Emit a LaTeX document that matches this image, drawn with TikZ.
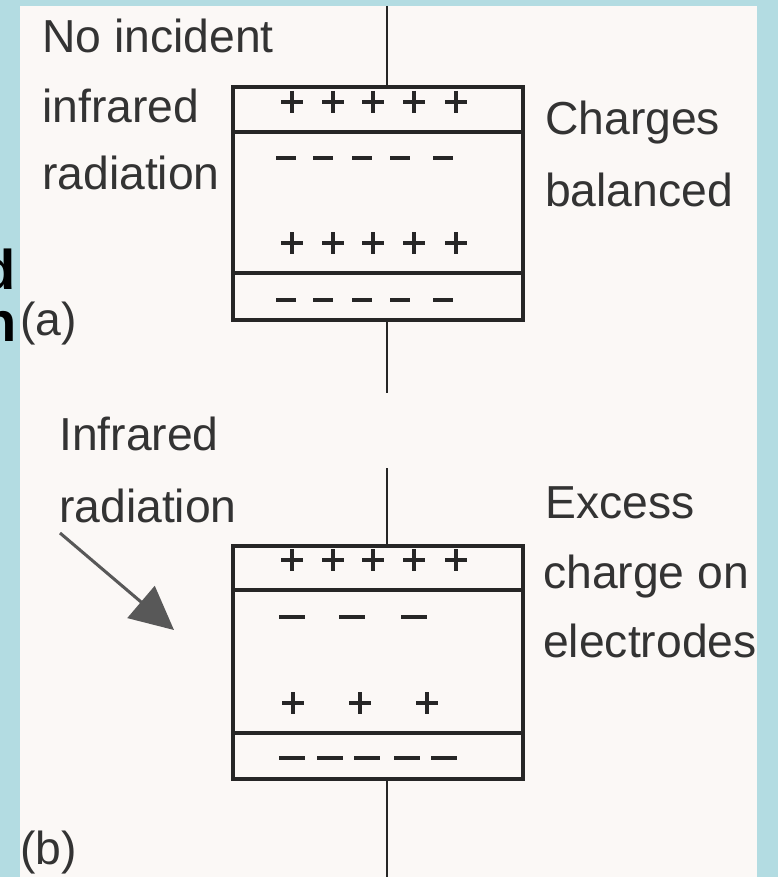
\documentclass[tikz,border=0pt]{standalone}
\usepackage{fontspec}
\setmainfont{Liberation Sans}
\usepackage{xcolor}
\usetikzlibrary{arrows.meta}

\definecolor{slideblue}{HTML}{B3DCE2}
\definecolor{paper}{HTML}{FBF8F6}
\definecolor{ink}{HTML}{262626}
\definecolor{textgray}{HTML}{333333}
\definecolor{arrowgray}{HTML}{585858}

\tikzset{
  lbl/.style={anchor=base west, inner sep=0pt, text=textgray,
    font=\fontsize{39.5}{46}\selectfont},
  cut/.style={anchor=base east, inner sep=0pt, text=black,
    font=\bfseries\fontsize{47.8}{56}\selectfont},
  cell/.style={draw=ink, line width=2.9pt, minimum width=8.7cm,
    minimum height=6.99cm, inner sep=0pt, outer sep=0pt},
  wire/.style={draw=ink, line width=2.3pt},
  chg/.style={draw=ink, line width=2.6pt},
  irarrow/.style={draw=arrowgray, line width=2.6pt,
    -{Triangle[length=1.3cm, width=1.25cm]}, arrowgray},
}

\begin{document}
\begin{tikzpicture}[x=0.03cm, y=-0.03cm]
    \useasboundingbox (0,0) rectangle (778,877);
    \clip (0,0) rectangle (778,877);
    \fill[slideblue] (0,0) rectangle (778,877);
    \fill[paper] (20,6) rectangle (757,877);

    % ends of the slide title, cut by the frame
    \node[cut] (titled) at (16,289) {d};
    \node[cut] (titlen) at (17,341) {n};

    % (a) no radiation
    \node[cell] (cella) at (378,203.5) {};
    \draw[cell] (cella.west |- 0,132) -- (cella.east |- 0,132);
    \draw[cell] (cella.west |- 0,273) -- (cella.east |- 0,273);
    \coordinate (atop) at (387,6);
    \coordinate (abot) at (387,393);
    \draw[wire] (atop) -- (atop |- cella.north);
    \draw[wire] (abot |- cella.south) -- (abot);
    \foreach \x in {292,333,373,414,456} {
        \draw[chg] (\x-11,102) -- (\x+11,102) (\x,91) -- (\x,113);
        \draw[chg] (\x-11,243) -- (\x+11,243) (\x,232) -- (\x,254);
    }
    \foreach \x in {286,323,362,400,443} {
        \draw[chg] (\x-10,158) -- (\x+10,158);
        \draw[chg] (\x-10,300) -- (\x+10,300);
    }
    \node[lbl] (noinc) at (42,53) {No incident};
    \node[lbl] (noinf) at (42,123) {infrared};
    \node[lbl] (norad) at (42,190) {radiation};
    \node[lbl] (chg1) at (545,135) {Charges};
    \node[lbl] (chg2) at (545,207) {balanced};
    \node[lbl] (taga) at (20,335) {(a)};

    % (b) with radiation
    \node[cell] (cellb) at (378,662.5) {};
    \draw[cell] (cellb.west |- 0,590) -- (cellb.east |- 0,590);
    \draw[cell] (cellb.west |- 0,733) -- (cellb.east |- 0,733);
    \coordinate (btop) at (387,468);
    \coordinate (bbot) at (387,877);
    \draw[wire] (btop) -- (btop |- cellb.north);
    \draw[wire] (bbot |- cellb.south) -- (bbot);
    \foreach \x in {292,333,373,414,456}
        \draw[chg] (\x-11,560) -- (\x+11,560) (\x,549) -- (\x,571);
    \foreach \x in {292,352,414}
        \draw[chg] (\x-13,617) -- (\x+13,617);
    \foreach \x in {293,360,427}
        \draw[chg] (\x-11,703) -- (\x+11,703) (\x,692) -- (\x,714);
    \foreach \x in {292,330,367,407,444}
        \draw[chg] (\x-13,758) -- (\x+13,758);
    \node[lbl] (irinf) at (59,450) {Infrared};
    \node[lbl] (irrad) at (59,522) {radiation};
    \node[lbl] (exc1) at (545,518) {Excess};
    \node[lbl] (exc2) at (543,588) {charge on};
    \node[lbl] (exc3) at (543,657) {electrodes};
    \node[lbl] (tagb) at (20,864) {(b)};

    \coordinate (irstart) at (60,533);
    \coordinate (irtip) at (174,630);
    \draw[irarrow] (irstart) -- (irtip);
\end{tikzpicture}
\end{document}
